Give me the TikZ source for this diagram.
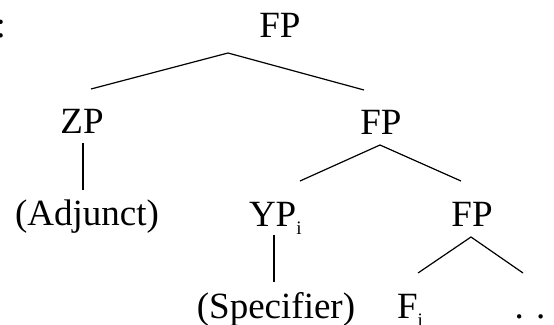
\documentclass[tikz,border=0pt]{standalone}
\usepackage{fontspec}
\setmainfont{Liberation Serif}
\newcommand\mysub[1]{\raisebox{-8pt}{\fontsize{19}{19}\selectfont #1}}
\begin{document}
\begin{tikzpicture}[x=1pt,y=1pt,
  lbl/.style={inner sep=0pt,outer sep=0pt,font=\fontsize{37}{40}\selectfont},
  branch/.style={line width=1.2pt,line cap=butt}]
\useasboundingbox (0,0) rectangle (554,324);
% labels
\node[lbl,anchor=base west] (colon) at (-4.4,286) {:};
\node[lbl,anchor=base] (fp1) at (280,286) {FP};
\node[lbl,anchor=base] (zp) at (82,190) {ZP};
\node[lbl,anchor=base] (fp2) at (381,189.5) {FP};
\node[lbl,anchor=base] (adj) at (87,98) {(Adjunct)};
\node[lbl,anchor=base west] (yp) at (249,97) {YP\mysub{i}};
\node[lbl,anchor=base] (fp3) at (472,97) {FP};
\node[lbl,anchor=base] (spec) at (276,6) {(Specifier)};
\node[lbl,anchor=base west] (fi) at (397,6) {F\mysub{i}};
\node[lbl,anchor=base west] (dots) at (514.5,6) {. . .};
% branch points
\coordinate (a1) at (228,271);
\coordinate (zpT) at (91,235);
\coordinate (fp2T) at (364,234);
\coordinate (zpB) at (83,181);
\coordinate (adjT) at (83,134);
\coordinate (a2) at (380,179);
\coordinate (ypT) at (300,143);
\coordinate (fp3T) at (461,143);
\coordinate (ypB) at (274,89);
\coordinate (specT) at (274,42);
\coordinate (a3) at (471,87);
\coordinate (fiT) at (418,51);
\coordinate (dotsT) at (523,51);
% branches
\draw[branch] (zpT) -- (a1) -- (fp2T);
\draw[branch] (zpB) -- (adjT);
\draw[branch] (ypT) -- (a2) -- (fp3T);
\draw[branch] (ypB) -- (specT);
\draw[branch] (fiT) -- (a3) -- (dotsT);
\end{tikzpicture}
\end{document}
